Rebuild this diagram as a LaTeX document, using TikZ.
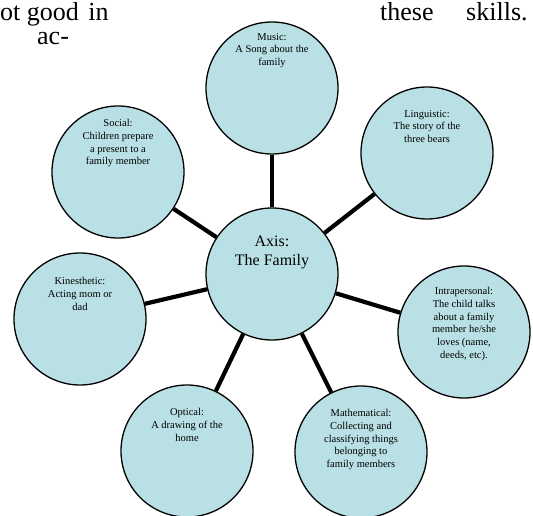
\documentclass[tikz,border=0pt]{standalone}
\usepackage{fontspec}
\setmainfont{Liberation Serif}
\definecolor{bubble}{RGB}{185,224,228}
\begin{document}
\begin{tikzpicture}[x=1pt,y=-1pt,
  bub/.style={circle,draw=black,line width=1.3pt,fill=bubble,minimum size=132pt,inner sep=0pt},
  btxt/.style={anchor=north,align=center,inner sep=0pt,font=\fontsize{10.5}{12.8}\selectfont},
  ctxt/.style={anchor=north,align=center,inner sep=0pt,font=\fontsize{16}{18.5}\selectfont},
  body/.style={anchor=base west,inner sep=0pt,font=\fontsize{26}{30}\selectfont},
  spoke/.style={line width=4.2pt,black}]
\useasboundingbox (0,0) rectangle (533,516);
% body text fragments
\node[body] (t1) at (0,21) {ot good\hspace{3pt} in};
\node[body] (t2) at (37,45) {ac-};
\node[body] (t3) at (380,21) {these};
\node[body] (t4) at (466,21) {skills.};
% circles
\node[bub] (c) at (272,274) {};
\node[bub] (music) at (272,88) {};
\node[bub] (ling) at (427,153) {};
\node[bub] (social) at (118,172) {};
\node[bub] (kin) at (80,319) {};
\node[bub] (intra) at (464,332) {};
\node[bub] (opt) at (187,451) {};
\node[bub] (math) at (361,452) {};
% spokes
\foreach \n in {music,ling,social,kin,intra,opt,math}
  \draw[spoke] (c) -- (\n);
% texts
\node[ctxt] (ct) at (272,236) {Axis:\\The Family};
\node[btxt] (musict) at (272,33) {Music:\\A Song about the\\family};
\node[btxt] (lingt) at (427,110) {Linguistic:\\The story of the\\three bears};
\node[btxt] (socialt) at (118,119) {Social:\\Children prepare\\a present to a\\family member};
\node[btxt] (kint) at (80,277) {Kinesthetic:\\Acting mom or\\dad};
\node[btxt] (intrat) at (464,287) {Intrapersonal:\\The child talks\\about a family\\member he/she\\loves (name,\\deeds, etc).};
\node[btxt] (optt) at (187,408) {Optical:\\A drawing of the\\home};
\node[btxt] (matht) at (361,409) {Mathematical:\\Collecting and\\classifying things\\belonging to\\family members};
\end{tikzpicture}
\end{document}
